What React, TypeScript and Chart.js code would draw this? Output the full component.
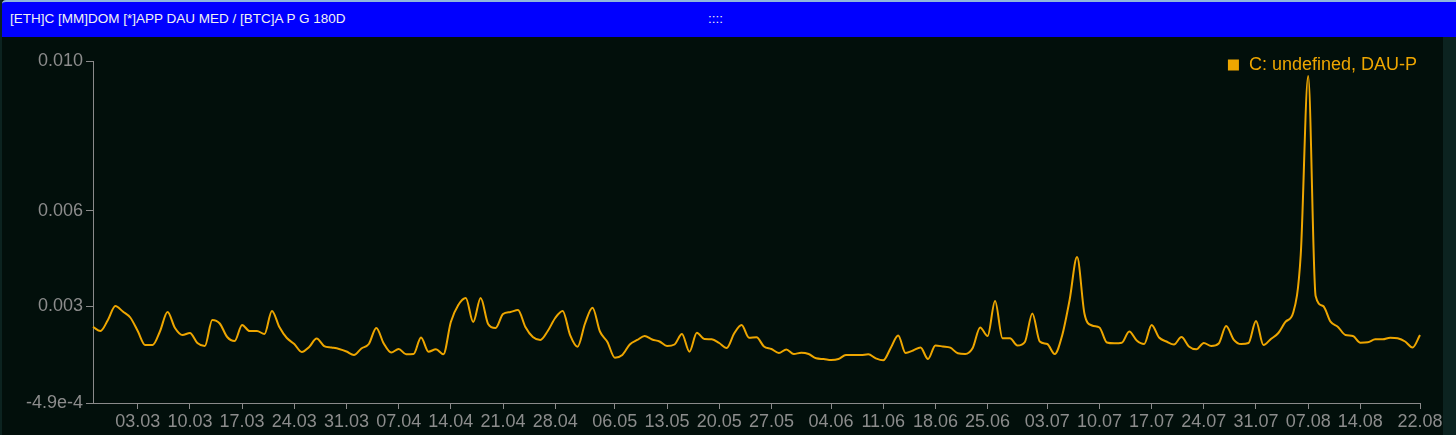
import React, { useEffect, useRef } from 'react';
import { Chart, registerables } from 'chart.js';

Chart.register(...registerables);

const TITLE = '[ETH]C [MM]DOM [*]APP DAU MED / [BTC]A P G 180D';
const SERIES_LABEL = 'C: undefined, DAU-P';
const START_DATE_UTC = Date.UTC(2024, 1, 26);

const DAU_P = [
  0.001908, 0.001782, 0.002129, 0.002570, 0.002397, 0.002208, 0.001782, 0.001340, 0.001340, 0.001782,
  0.002381, 0.001876, 0.001655, 0.001719, 0.001403, 0.001308, 0.002129, 0.002018, 0.001592, 0.001466,
  0.001971, 0.001782, 0.001782, 0.001687, 0.002413, 0.001908, 0.001561, 0.001371, 0.001119, 0.001277,
  0.001545, 0.001308, 0.001261, 0.001214, 0.001135, 0.001024, 0.001230, 0.001371, 0.001876, 0.001387,
  0.001103, 0.001214, 0.001047, 0.001056, 0.001577, 0.001129, 0.001204, 0.001047, 0.002066, 0.002602,
  0.002823, 0.002066, 0.002823, 0.002003, 0.001876, 0.002318, 0.002381, 0.002444, 0.001908, 0.001592,
  0.001498, 0.001782, 0.002192, 0.002413, 0.001655, 0.001286, 0.002018, 0.002517, 0.001766, 0.001435,
  0.000939, 0.001024, 0.001356, 0.001498, 0.001624, 0.001513, 0.001450, 0.001308, 0.001356, 0.001687,
  0.001129, 0.001728, 0.001529, 0.001520, 0.001403, 0.001245, 0.001703, 0.001971, 0.001570, 0.001583,
  0.001293, 0.001214, 0.001088, 0.001198, 0.001056, 0.001097, 0.001056, 0.000920, 0.000898, 0.000867,
  0.000898, 0.001024, 0.001024, 0.001024, 0.001047, 0.000920, 0.000857, 0.001245, 0.001640, 0.001088,
  0.001166, 0.001261, 0.000898, 0.001324, 0.001293, 0.001255, 0.001078, 0.001056, 0.001245, 0.001892,
  0.001624, 0.002728, 0.001551, 0.001551, 0.001324, 0.001435, 0.002334, 0.001450, 0.001371, 0.001056,
  0.001640, 0.002760, 0.004116, 0.002318, 0.001955, 0.001892, 0.001419, 0.001394, 0.001413, 0.001766,
  0.001482, 0.001371, 0.001971, 0.001577, 0.001450, 0.001356, 0.001592, 0.001293, 0.001204, 0.001403,
  0.001308, 0.001387, 0.001939, 0.001513, 0.001371, 0.001403, 0.002097, 0.001340, 0.001529, 0.001719,
  0.002081, 0.002365, 0.004179, 0.009827, 0.002886, 0.002570, 0.002075, 0.001908, 0.001655, 0.001624,
  0.001413, 0.001425, 0.001520, 0.001520, 0.001570, 0.001551, 0.001450, 0.001261, 0.001655,
];

const X_TICK_LABELS = [
  '03.03', '10.03', '17.03', '24.03', '31.03', '07.04', '14.04', '21.04', '28.04', '06.05', '13.05',
  '20.05', '27.05', '04.06', '11.06', '18.06', '25.06', '03.07', '10.07', '17.07', '24.07', '31.07',
  '07.08', '14.08', '22.08',
];

const Y_MIN = -0.00049;
const Y_MAX = 0.0103;
const Y_TICK_VALUES = [-0.00049, 0.00257, 0.005568, 0.0103];
const Y_TICK_LABELS = ['-4.9e-4', '0.003', '0.006', '0.010'];

const DATES = DAU_P.map((_, i) => {
  const d = new Date(START_DATE_UTC + i * 86400000);
  const dd = String(d.getUTCDate()).padStart(2, '0');
  const mm = String(d.getUTCMonth() + 1).padStart(2, '0');
  return `${dd}.${mm}`;
});

const LINE_COLOR = '#eea600';
const AXIS_COLOR = '#8a8a8a';
const TICK_TEXT = '#8c8c8c';
const FONT_FAMILY = '"Liberation Sans", Arial, Helvetica, sans-serif';

const insideLegend = {
  id: 'insideLegend',
  afterDraw(chart: any) {
    const { ctx, chartArea } = chart;
    const label = chart.data.datasets[0].label as string;
    ctx.save();
    ctx.font = `18px ${FONT_FAMILY}`;
    ctx.textBaseline = 'middle';
    ctx.textAlign = 'right';
    const xRight = chartArea.right - 3;
    const y = chartArea.top + 4;
    const w = ctx.measureText(label).width;
    ctx.fillStyle = LINE_COLOR;
    ctx.fillText(label, xRight, y);
    ctx.fillRect(xRight - w - 21, y - 5.5, 11, 11);
    ctx.restore();
  },
};

export default function App() {
  const canvasRef = useRef<HTMLCanvasElement | null>(null);

  useEffect(() => {
    if (!canvasRef.current) return;
    const chart = new Chart(canvasRef.current, {
      type: 'line',
      data: {
        labels: DATES,
        datasets: [
          {
            label: SERIES_LABEL,
            data: DAU_P,
            borderColor: LINE_COLOR,
            backgroundColor: LINE_COLOR,
            borderWidth: 2,
            pointRadius: 0,
            cubicInterpolationMode: 'monotone',
            fill: false,
          },
        ],
      },
      options: {
        animation: false,
        responsive: true,
        maintainAspectRatio: false,
        layout: { padding: { left: 0, right: 36, top: 24, bottom: 0 } },
        plugins: {
          legend: { display: false },
          tooltip: { enabled: false },
          title: { display: false },
        },
        scales: {
          x: {
            type: 'category',
            offset: false,
            afterBuildTicks: (scale: any) => {
              scale.ticks = scale.ticks.filter((t: any) => X_TICK_LABELS.includes(DATES[t.value]));
            },
            afterFit: (scale: any) => {
              scale.height = 32;
            },
            ticks: {
              autoSkip: false,
              maxRotation: 0,
              color: TICK_TEXT,
              padding: 2,
              font: { family: FONT_FAMILY, size: 18 },
              callback: (v: any) => DATES[v as number],
            },
            grid: { drawOnChartArea: false, drawTicks: true, tickLength: 6, color: AXIS_COLOR },
            border: { color: AXIS_COLOR, width: 1 },
          },
          y: {
            type: 'linear',
            min: Y_MIN,
            max: Y_MAX,
            afterBuildTicks: (scale: any) => {
              scale.ticks = Y_TICK_VALUES.map((v) => ({ value: v }));
            },
            afterFit: (scale: any) => {
              scale.width = 93;
            },
            ticks: {
              color: TICK_TEXT,
              padding: 3,
              font: { family: FONT_FAMILY, size: 18 },
              callback: (v: any) => {
                const idx = Y_TICK_VALUES.indexOf(v as number);
                return idx >= 0 ? Y_TICK_LABELS[idx] : '';
              },
            },
            grid: { drawOnChartArea: false, drawTicks: true, tickLength: 7, color: AXIS_COLOR },
            border: { color: AXIS_COLOR, width: 1 },
          },
        },
      },
      plugins: [insideLegend],
    });
    return () => chart.destroy();
  }, []);

  return (
    <div
      style={{
        position: 'fixed',
        left: 0,
        top: 0,
        width: 1456,
        height: 435,
        background: '#0c2320',
        overflow: 'hidden',
      }}
    >
      <div
        style={{
          position: 'absolute',
          left: 2,
          top: 0,
          width: 1441,
          height: 435,
          background: '#020f0b',
        }}
      />
      <div
        style={{
          position: 'absolute',
          left: 2,
          top: 0,
          width: 1454,
          height: 35,
          background: '#0000ff',
          borderTop: '2px solid #8fb8dc',
          borderTopLeftRadius: 4,
          color: '#f2f2f2',
          fontFamily: FONT_FAMILY,
          fontSize: 13.5,
        }}
      >
        <span style={{ position: 'absolute', left: 8, top: 9, whiteSpace: 'nowrap' }}>{TITLE}</span>
        <span style={{ position: 'absolute', left: 706, top: 9 }}>::::</span>
      </div>
      <div style={{ position: 'absolute', left: 0, top: 37, width: 1456, height: 398 }}>
        <canvas ref={canvasRef} />
      </div>
    </div>
  );
}
